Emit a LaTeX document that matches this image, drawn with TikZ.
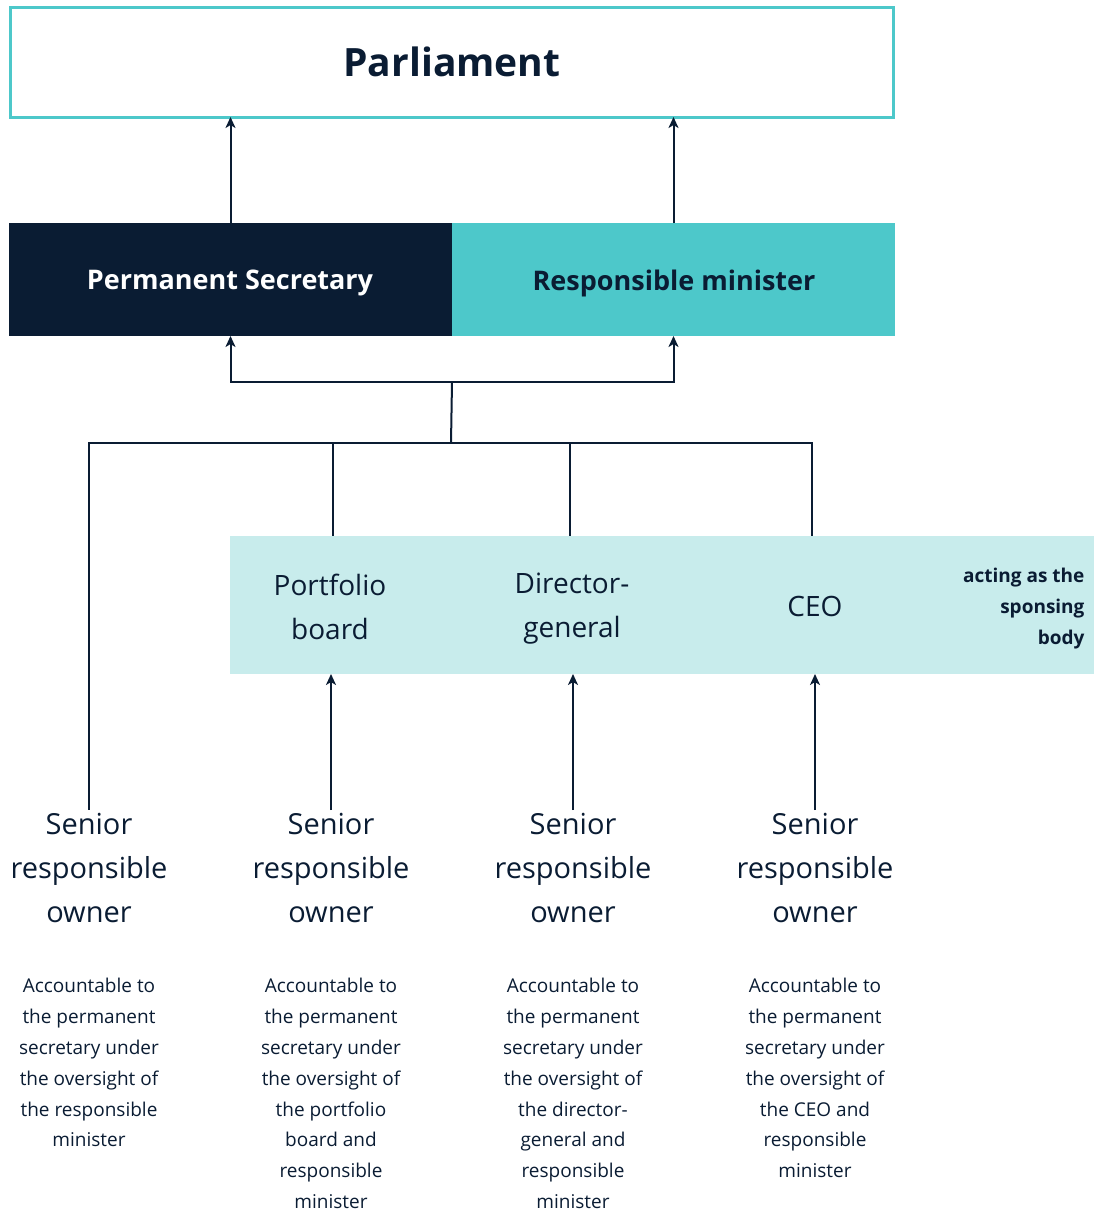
\documentclass[tikz,border=0pt]{standalone}
\usepackage{fontspec}
\setmainfont{Open Sans}
\usetikzlibrary{arrows.meta}
\definecolor{navy}{HTML}{0A1C33}
\definecolor{teal}{HTML}{4DC8CA}
\definecolor{pale}{HTML}{C8ECEC}
\begin{document}
\begin{tikzpicture}[x=1pt,y=-1pt,
  conn/.style={draw=navy,line width=2pt},
  arr/.style={conn,-{Stealth[length=11pt,width=10pt,inset=3pt]}},
  box/.style={inner sep=0pt,outer sep=0pt,anchor=north west},
  owner/.style={align=center,text=navy,font=\fontsize{29}{44}\selectfont},
  note/.style={align=center,text=navy,font=\fontsize{19}{30.8}\selectfont},
  entity/.style={align=center,text=navy,font=\fontsize{28}{44}\selectfont}]
\useasboundingbox (0,0) rectangle (1094,1213);
% top tier
\node[box,draw=teal,line width=3pt,minimum width=883pt,minimum height=110pt] (parl) at (10,7) {};
\node[text=navy,font=\bfseries\fontsize{39}{48}\selectfont] at (452,62) {Parliament};
\node[box,fill=navy,minimum width=443pt,minimum height=113pt] (ps) at (9,223) {};
\node[text=white,font=\bfseries\fontsize{27}{32}\selectfont] at (230,283) {Permanent Secretary};
\node[box,fill=teal,minimum width=443pt,minimum height=113pt] (rm) at (452,223) {};
\node[text=navy,font=\bfseries\fontsize{27}{32}\selectfont] at (674,283) {Responsible minister};
% sponsoring body band
\node[box,fill=pale,minimum width=864pt,minimum height=138pt] (band) at (230,536) {};
\node[entity] (pb) at (330,607) {Portfolio\\board};
\node[entity] (dg) at (572,609) {Director-\\general};
\node[entity] (ceo) at (815,606) {CEO};
\node[align=right,anchor=east,text=navy,font=\bfseries\fontsize{19}{31}\selectfont] (sp) at (1088,609) {acting as the\\sponsing\\body};
% senior responsible owners
\foreach \i/\x in {1/89,2/331,3/573,4/815}{
  \node[owner,anchor=north] (sro\i) at (\x,810) {Senior\\responsible\\owner};
}
\node[note,anchor=north] (n1) at (89,975) {Accountable to\\the permanent\\secretary under\\the oversight of\\the responsible\\minister};
\node[note,anchor=north] (n2) at (331,975) {Accountable to\\the permanent\\secretary under\\the oversight of\\the portfolio\\board and\\responsible\\minister};
\node[note,anchor=north] (n3) at (573,975) {Accountable to\\the permanent\\secretary under\\the oversight of\\the director-\\general and\\responsible\\minister};
\node[note,anchor=north] (n4) at (815,975) {Accountable to\\the permanent\\secretary under\\the oversight of\\the CEO and\\responsible\\minister};
% junctions
\coordinate (jtop) at (452,382);
\coordinate (jlow) at (451,443);
% connectors
\draw[arr] (ps.north) -- (ps.north |- parl.south);
\draw[arr] (rm.north) -- (rm.north |- parl.south);
\draw[arr] (jtop) -| (ps.south);
\draw[arr] (jtop) -| (rm.south);
\draw[conn] (jtop) -- (jlow);
\draw[conn] (jlow) -| (sro1.north);
\draw[conn] (jlow) -| (333,536);
\draw[conn] (jlow) -| (570,536);
\draw[conn] (jlow) -| (812,536);
\draw[arr] (sro2.north) -- (sro2.north |- band.south);
\draw[arr] (sro3.north) -- (sro3.north |- band.south);
\draw[arr] (sro4.north) -- (sro4.north |- band.south);
\end{tikzpicture}
\end{document}
